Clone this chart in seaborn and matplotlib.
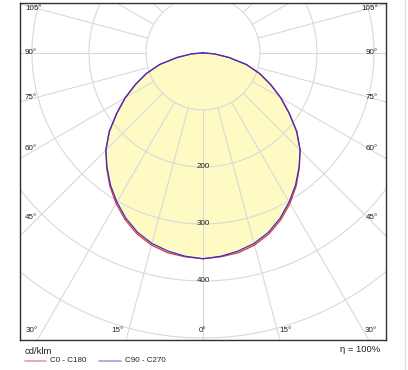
import numpy as np
import pandas as pd
import seaborn as sns
import matplotlib.pyplot as plt

sns.set_style("white")
plt.rcParams['font.family'] = ['Liberation Sans', 'DejaVu Sans']

# luminous intensity distribution (cd/klm), gamma angle from nadir
gamma = [0, 5, 10, 15, 20, 25, 30, 35, 40, 45, 50, 55, 60, 65, 70, 75, 80, 85, 90]
c0_c180 = [361, 359, 356, 349, 338, 323, 305, 285, 263, 241, 214, 184, 157, 130, 105, 78, 46, 20, 0]
c90_c270 = [361, 358, 353, 346, 335, 320, 302, 283, 262, 241, 215, 185, 158, 131, 106, 79, 46, 20, 0]

ring_values = [100, 200, 300, 400, 500, 600]
ring_labels = [200, 300, 400]
side_angles = [45, 60, 75, 90, 105]
bottom_angles = [0, 15, 30]
series_names = ['C0 - C180', 'C90 - C270']
efficiency = 'η = 100%'

W, H = 408, 370
fig = plt.figure(figsize=(W / 100, H / 100), dpi=100)
# plot box in pixels: x 20..386, y 2.7..340
ax = fig.add_axes([20 / W, (H - 340) / H, 366 / W, 337.3 / H])
xmax = 321.0
ytop, ybot = 88.0, -503.5
ax.set_xlim(-xmax, xmax)
ax.set_ylim(ybot, ytop)


def to_xy(r, g_deg):
    g = np.radians(g_deg)
    return np.asarray(r) * np.sin(g), -np.asarray(r) * np.cos(g)


# curves, mirrored on both halves
def full_curve(vals, name):
    g = np.array(gamma, dtype=float)
    v = np.array(vals, dtype=float)
    gg = np.concatenate([-g[::-1], g[1:]])
    vv = np.concatenate([v[::-1], v[1:]])
    x, y = to_xy(vv, gg)
    return pd.DataFrame({'x': x, 'y': y, 'series': name})


d0 = full_curve(c0_c180, series_names[0])
d90 = full_curve(c90_c270, series_names[1])
ax.fill(d0['x'], d0['y'], color='#fdfac4', lw=0, zorder=1)

# grid
grid_c = '#d9d9d9'
t = np.linspace(0, 360, 721)
for r in ring_values:
    x, y = to_xy(r, t)
    ax.plot(x, y, color=grid_c, lw=0.8, zorder=2)
for a in range(0, 360, 15):
    x, y = to_xy([100, 800], [a, a])
    ax.plot(x, y, color=grid_c, lw=0.8, zorder=2)

sns.lineplot(data=d0, x='x', y='y', sort=False, estimator=None, color='#e03838',
             lw=0.9, ax=ax, zorder=4, legend=False)
sns.lineplot(data=d90, x='x', y='y', sort=False, estimator=None, color='#3a2ec8',
             lw=0.9, ax=ax, zorder=5, legend=False)
ax.set_xlabel('')
ax.set_ylabel('')

# labels
fs = 5.8
for r in ring_labels:
    ax.text(0, -r, str(r), ha='center', va='center', fontsize=fs, color='#222222', zorder=6)

px = 2 * xmax / 366  # data units per pixel
for a in side_angles:
    ly = -289 / np.tan(np.radians(a))
    ax.text(-xmax + 5 * px, ly, f'{a}°', ha='left', va='center', fontsize=fs, color='#222222', zorder=6)
    ax.text(xmax - 8 * px, ly, f'{a}°', ha='right', va='center', fontsize=fs, color='#222222', zorder=6)
yb = -486
for a in bottom_angles:
    lx = -yb * np.tan(np.radians(a))
    if a == 0:
        ax.text(0, yb, '0°', ha='center', va='center', fontsize=fs, color='#222222', zorder=6)
    else:
        ax.text(-lx - 5 * px, yb, f'{a}°', ha='right', va='center', fontsize=fs, color='#222222', zorder=6)
        ax.text(lx + 2 * px, yb, f'{a}°', ha='left', va='center', fontsize=fs, color='#222222', zorder=6)

ax.set_xticks([])
ax.set_yticks([])
for s in ax.spines.values():
    s.set_color('#303030')
    s.set_linewidth(1.0)

# footer
fig.text(25 / W, 1 - 351 / H, 'cd/klm', ha='left', va='center', fontsize=6.8, color='#222222')
fig.text(380 / W, 1 - 350 / H, efficiency, ha='right', va='center', fontsize=6.8, color='#222222')
ly = 1 - 361 / H
fig.add_artist(plt.Line2D([25 / W, 46 / W], [ly, ly], color='#e8a4ac', lw=1.3))
fig.text(50 / W, ly, series_names[0], ha='left', va='center', fontsize=5.8, color='#222222')
fig.add_artist(plt.Line2D([99 / W, 121 / W], [ly, ly], color='#a8a8e2', lw=1.3))
fig.text(125 / W, ly, series_names[1], ha='left', va='center', fontsize=5.8, color='#222222')
fig.add_artist(plt.Line2D([405 / W, 405 / W], [0, 1], color='#e2e2e2', lw=1.0))

fig.savefig('out.png', dpi=100)
